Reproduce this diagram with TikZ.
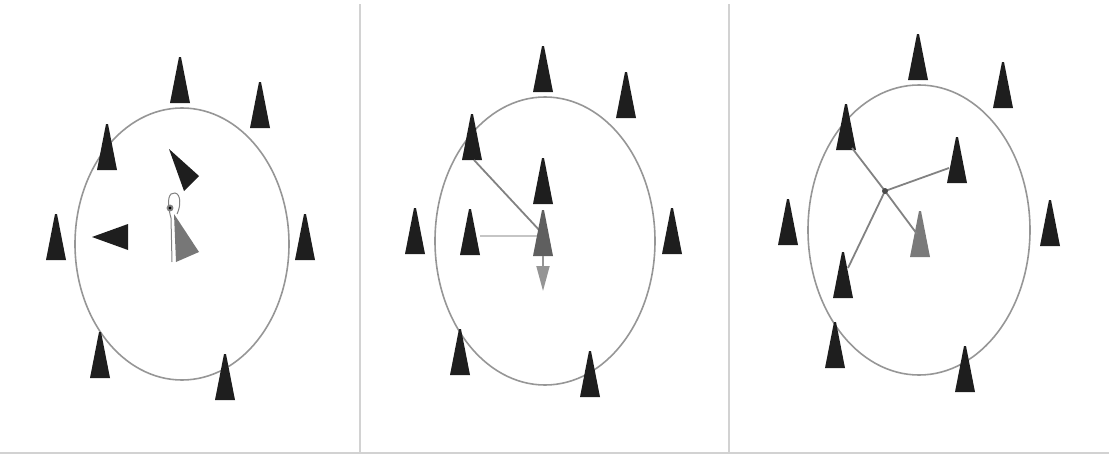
\documentclass[tikz,border=0pt]{standalone}
\usetikzlibrary{arrows.meta}
\definecolor{ink}{RGB}{30,30,30}
\definecolor{target}{RGB}{95,95,95}
\definecolor{targetlight}{RGB}{122,122,122}
\definecolor{ring}{RGB}{150,150,150}
\definecolor{link}{RGB}{130,130,130}
\definecolor{frame}{RGB}{210,210,210}
\tikzset{
  pics/beacon/.style={code={\fill[#1] (-10,0) -- (10,0) -- (1,-46) -- (-1,-46) -- cycle;}},
  pics/beacon/.default=ink,
  ring/.style={draw=ring, line width=1.6pt},
  link/.style={draw=link, line width=1.8pt},
  divider/.style={draw=frame, line width=1.5pt}
}
\begin{document}
\begin{tikzpicture}[x=1pt,y=-1pt]
  \useasboundingbox (0,0) rectangle (1109,455);
  % panel frames
  \draw[divider] (360,4) -- (360,453) (729,4) -- (729,453) (0,453) -- (1109,453);

  % panel 1
  \draw[ring] (182,244) ellipse [x radius=107, y radius=136];
  \foreach \x/\y in {180/103, 260/128, 107/170, 56/260, 305/260, 100/378, 225/400}
    \pic at (\x,\y) {beacon};
  \fill[ink] (92,237) -- (128,224) -- (128,250) -- cycle;
  \fill[ink] (169,149) -- (199,176) -- (184,191) -- cycle;
  \fill[target!85] (174,214) -- (199,252) -- (176,262) -- cycle;
  \draw[link, line width=1pt] (172,262) -- (171,218) .. controls (166,200) and (169,192) .. (175,193)
    .. controls (181,194) and (181,206) .. (177,214);
  \fill[link] (170,208) circle (2.5);

  % panel 2
  \draw[ring] (545,241) ellipse [x radius=110, y radius=144];
  \foreach \x/\y in {543/92, 626/118, 472/160, 543/204, 415/254, 470/255, 672/254, 460/375, 590/397}
    \pic at (\x,\y) {beacon};
  \coordinate (p2ul) at (474,160);
  \coordinate (p2l) at (480,236);
  \coordinate (p2m) at (538,236);
  \coordinate (p2c) at (541,232);
  \coordinate (p2b) at (543,256);
  \coordinate (p2s) at (543,291);
  \draw[link] (p2ul) -- (p2c);
  \draw[link, draw=ring!55, line width=2.6pt] (p2l) -- (p2m);
  \pic at (543,256) {beacon=target};
  \draw[link, draw=link!85, -{Triangle[length=25pt,width=13pt]}] (p2b) -- (p2s);

  % panel 3
  \draw[ring] (919,230) ellipse [x radius=111, y radius=145];
  \foreach \x/\y in {918/80, 1003/108, 846/150, 957/183, 788/245, 1050/246, 843/298, 835/368, 965/392}
    \pic at (\x,\y) {beacon};
  \coordinate (hub) at (885,191);
  \coordinate (p3ul) at (852,148);
  \coordinate (p3r) at (949,168);
  \coordinate (p3c) at (917,234);
  \coordinate (p3ll) at (848,268);
  \pic at (920,257) {beacon=targetlight};
  \foreach \e in {p3ul,p3r,p3c,p3ll}
    \draw[link] (hub) -- (\e);
  \fill[ink!80] (hub) circle (3);
\end{tikzpicture}
\end{document}
